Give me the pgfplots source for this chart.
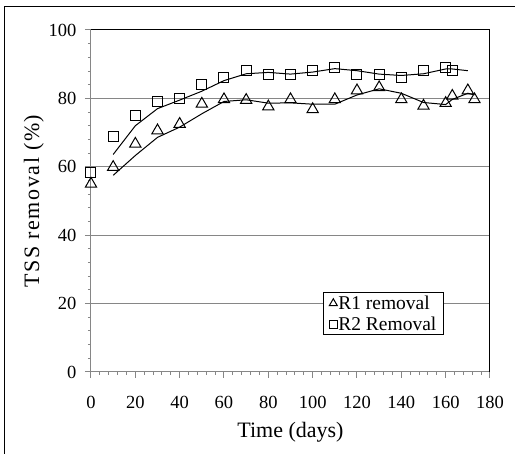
\documentclass[border=0pt]{standalone}
\usepackage{fontspec}
\setmainfont{Liberation Serif}
\usepackage{pgfplots}
\pgfplotsset{compat=1.18}
\definecolor{axgray}{RGB}{134,134,134}

\begin{document}
\begin{tikzpicture}[x=1pt,y=1pt]
\useasboundingbox (-91,-82) rectangle (424,372);
% chart area border (only left and top edges fall inside the image)
\draw[line width=1pt] (-86,-100) -- (-86,365) -- (440,365);
\begin{axis}[
  width=399pt, height=342pt, scale only axis,
  xmin=0, xmax=180, ymin=0, ymax=100,
  xtick={0,20,...,180}, ytick={0,20,...,100},
  minor x tick num=4, minor y tick num=4,
  axis x line*=bottom, axis y line*=left,
  axis line style={axgray, line width=1pt},
  tick style={axgray, line width=1pt},
  tick align=outside,
  major tick length=6pt, minor tick length=3pt,
  ymajorgrids,
  grid style={axgray, line width=1pt},
  /pgf/number format/assume math mode=true,
  tick label style={font=\fontsize{18.5}{21}\selectfont, text=black},
  xticklabel style={yshift=-15pt},
  yticklabel style={xshift=-5pt},
  xlabel={Time (days)}, ylabel={TSS removal (\%)},
  xlabel style={font=\fontsize{22}{25}\selectfont, yshift=-6pt},
  ylabel style={font=\fontsize{22}{25}\selectfont\addfontfeature{LetterSpace=7}, yshift=-2pt},
  legend style={at={(rel axis cs:0.581,0.233)}, anchor=north west,
    draw=black, line width=1pt, font=\fontsize{19.5}{22}\selectfont,
    inner xsep=6pt, inner ysep=2pt, row sep=4pt, nodes={inner sep=1pt},
    cells={anchor=west}},
  legend cell align=left,
]
% 2-period moving average trendlines
\addplot[black, line width=1pt, forget plot] coordinates {
  (10,57.5) (20,63.3) (30,68.6) (40,71.6) (50,75.5) (60,79.1) (70,79.6)
  (80,78.6) (90,78.7) (100,78.3) (110,78.3) (120,81.0) (130,82.8)
  (140,81.5) (150,78.8) (160,78.2) (163,79.7) (170,81.5) (173,81.0)
};
\addplot[black, line width=1pt, forget plot] coordinates {
  (10,63.6) (20,72.0) (30,77.0) (40,79.5) (50,82.1) (60,85.2) (70,87.2)
  (80,87.6) (90,87.1) (100,87.7) (110,88.7) (120,88.1) (130,87.1)
  (140,86.7) (150,87.2) (160,88.6) (163,88.6) (170,88.1)
};
% R1 removal
\addplot[only marks, mark=triangle, mark size=6.5pt,
  mark options={draw=black, fill=white, line width=1pt},
  legend image post style={mark size=4.6pt}] coordinates {
  (0,55.0) (10,59.9) (20,66.7) (30,70.6) (40,72.5) (50,78.4) (60,79.7)
  (70,79.5) (80,77.6) (90,79.7) (100,76.8) (110,79.7) (120,82.3)
  (130,83.2) (140,79.7) (150,77.8) (160,78.6) (163,80.7) (170,82.3)
  (173,79.7)
};
\addlegendentry{R1 removal}
% R2 Removal
\addplot[only marks, mark=square, mark size=5pt,
  mark options={draw=black, fill=white, line width=1pt},
  legend image post style={mark size=4pt}] coordinates {
  (0,58.3) (10,69.0) (20,74.9) (30,79.0) (40,80.0) (50,84.2) (60,86.2)
  (70,88.1) (80,87.0) (90,87.1) (100,88.2) (110,89.1) (120,87.1)
  (130,87.1) (140,86.2) (150,88.1) (160,89.1) (163,88.1)
};
\addlegendentry{R2 Removal}
% plot area border, top and right
\draw[black, line width=1pt] (rel axis cs:0,1) -- (rel axis cs:1,1) -- (rel axis cs:1,0);
\end{axis}
\end{tikzpicture}
\end{document}
